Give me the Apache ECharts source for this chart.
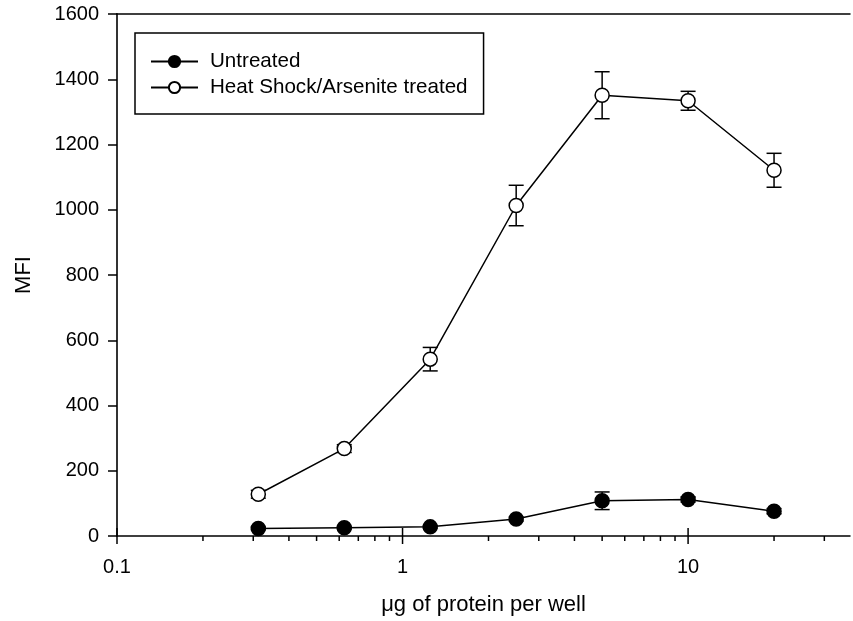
<!DOCTYPE html>
<html>
<head>
<meta charset="utf-8">
<script src="https://cdn.jsdelivr.net/npm/echarts@6/dist/echarts.min.js"></script>
<style>
  html, body { margin: 0; padding: 0; background: #fff; }
  #chart { width: 853px; height: 621px; }
</style>
</head>
<body>
<div id="chart"></div>
<script>
var doses = [0.3125, 0.625, 1.25, 2.5, 5, 10, 20];
var untreated = [23, 25, 28, 52, 108, 112, 76];
var untreatedErr = [4, 4, 4, 6, 27, 8, 8];
var treated = [128, 268, 542, 1013, 1351, 1334, 1121];
var treatedErr = [12, 12, 36, 62, 72, 29, 52];
var majorTicks = [0.1, 1, 10];
var minorTicks = [0.2, 0.3, 0.4, 0.5, 0.6, 0.7, 0.8, 0.9, 2, 3, 4, 5, 6, 7, 8, 9, 20, 30];
var seriesNames = ['Untreated', 'Heat Shock/Arsenite treated'];
var xMin = 0.1, xMax = 36.9;

var font = 'Liberation Sans, Arial, sans-serif';

function pts(vals) {
  return doses.map(function (d, i) { return [d, vals[i]]; });
}
function errPts(vals, errs) {
  return doses.map(function (d, i) { return [d, vals[i], errs[i]]; });
}

function renderErr(params, api) {
  var x = api.value(0), y = api.value(1), e = api.value(2);
  var top = api.coord([x, y + e]);
  var bot = api.coord([x, y - e]);
  var hw = 7.5;
  var st = { stroke: '#000', lineWidth: 1.5 };
  return {
    type: 'group',
    children: [
      { type: 'line', shape: { x1: top[0], y1: top[1], x2: bot[0], y2: bot[1] }, style: st },
      { type: 'line', shape: { x1: top[0] - hw, y1: top[1], x2: top[0] + hw, y2: top[1] }, style: st },
      { type: 'line', shape: { x1: bot[0] - hw, y1: bot[1], x2: bot[0] + hw, y2: bot[1] }, style: st }
    ]
  };
}

// x ticks: majors cross the axis, minors point down
function renderTick(params, api) {
  var v = api.value(0);
  var up = api.value(1), down = api.value(2);
  var p = api.coord([v, 0]);
  return {
    type: 'line',
    shape: { x1: p[0], y1: p[1] - up, x2: p[0], y2: p[1] + down },
    style: { stroke: '#000', lineWidth: 1.5 }
  };
}

var tickData = majorTicks.map(function (v) { return [v, 8, 8]; })
  .concat(minorTicks.map(function (v) { return [v, 0, 5]; }));

var myChart = echarts.init(document.getElementById('chart'));
var option = {
  animation: false,
  textStyle: { fontFamily: font },
  grid: { left: 117, top: 14, bottom: 85, right: 0 },
  legend: {
    data: seriesNames,
    orient: 'vertical',
    left: 135, top: 33,
    padding: [18, 16, 16, 15],
    itemGap: 5,
    itemWidth: 47,
    itemHeight: 14,
    borderColor: '#000',
    borderWidth: 1.5,
    textStyle: { fontSize: 20.6, color: '#000', fontFamily: font, padding: [0, 0, 0, 7] }
  },
  xAxis: [{
    type: 'log',
    logBase: 10,
    min: xMin,
    max: xMax,
    name: '\u03bcg of protein per well',
    nameLocation: 'middle',
    nameGap: 58,
    nameTextStyle: { fontSize: 22, color: '#000', fontFamily: font },
    axisLine: { lineStyle: { color: '#000', width: 1.5 } },
    axisTick: { show: false },
    axisLabel: {
      fontSize: 20, color: '#000', margin: 21, fontFamily: font,
      formatter: function (v) {
        return majorTicks.indexOf(+v) >= 0 ? String(v) : '';
      }
    },
    splitLine: { show: false }
  }, {
    type: 'log',
    logBase: 10,
    min: xMin,
    max: xMax,
    position: 'top',
    axisLine: { show: true, lineStyle: { color: '#000', width: 1.5 } },
    axisTick: { show: false },
    axisLabel: { show: false },
    splitLine: { show: false }
  }],
  yAxis: {
    type: 'value',
    min: 0,
    max: 1600,
    interval: 200,
    name: 'MFI',
    nameLocation: 'middle',
    nameGap: 82,
    nameTextStyle: { fontSize: 22, color: '#000', fontFamily: font },
    axisLine: { show: true, lineStyle: { color: '#333', width: 2 } },
    axisTick: { show: true, length: 9, lineStyle: { color: '#000', width: 1.5 } },
    axisLabel: {
      fontSize: 20, color: '#000', margin: 18, fontFamily: font,
      formatter: function (v) { return String(v); }
    },
    splitLine: { show: false }
  },
  series: [
    {
      type: 'custom',
      renderItem: renderTick,
      data: tickData,
      clip: false,
      silent: true,
      z: 1
    },
    {
      type: 'custom',
      renderItem: renderErr,
      data: errPts(untreated, untreatedErr),
      z: 1
    },
    {
      type: 'custom',
      renderItem: renderErr,
      data: errPts(treated, treatedErr),
      z: 1
    },
    {
      name: seriesNames[0],
      type: 'line',
      data: pts(untreated),
      symbol: 'circle',
      symbolSize: 14,
      lineStyle: { color: '#000', width: 1.5 },
      itemStyle: { color: '#000', borderColor: '#000', borderWidth: 1.5 },
      z: 3
    },
    {
      name: seriesNames[1],
      type: 'line',
      data: pts(treated),
      symbol: 'circle',
      symbolSize: 14,
      lineStyle: { color: '#000', width: 1.5 },
      itemStyle: { color: '#fff', borderColor: '#000', borderWidth: 1.5 },
      z: 3
    }
  ]
};
myChart.setOption(option);
</script>
</body>
</html>
